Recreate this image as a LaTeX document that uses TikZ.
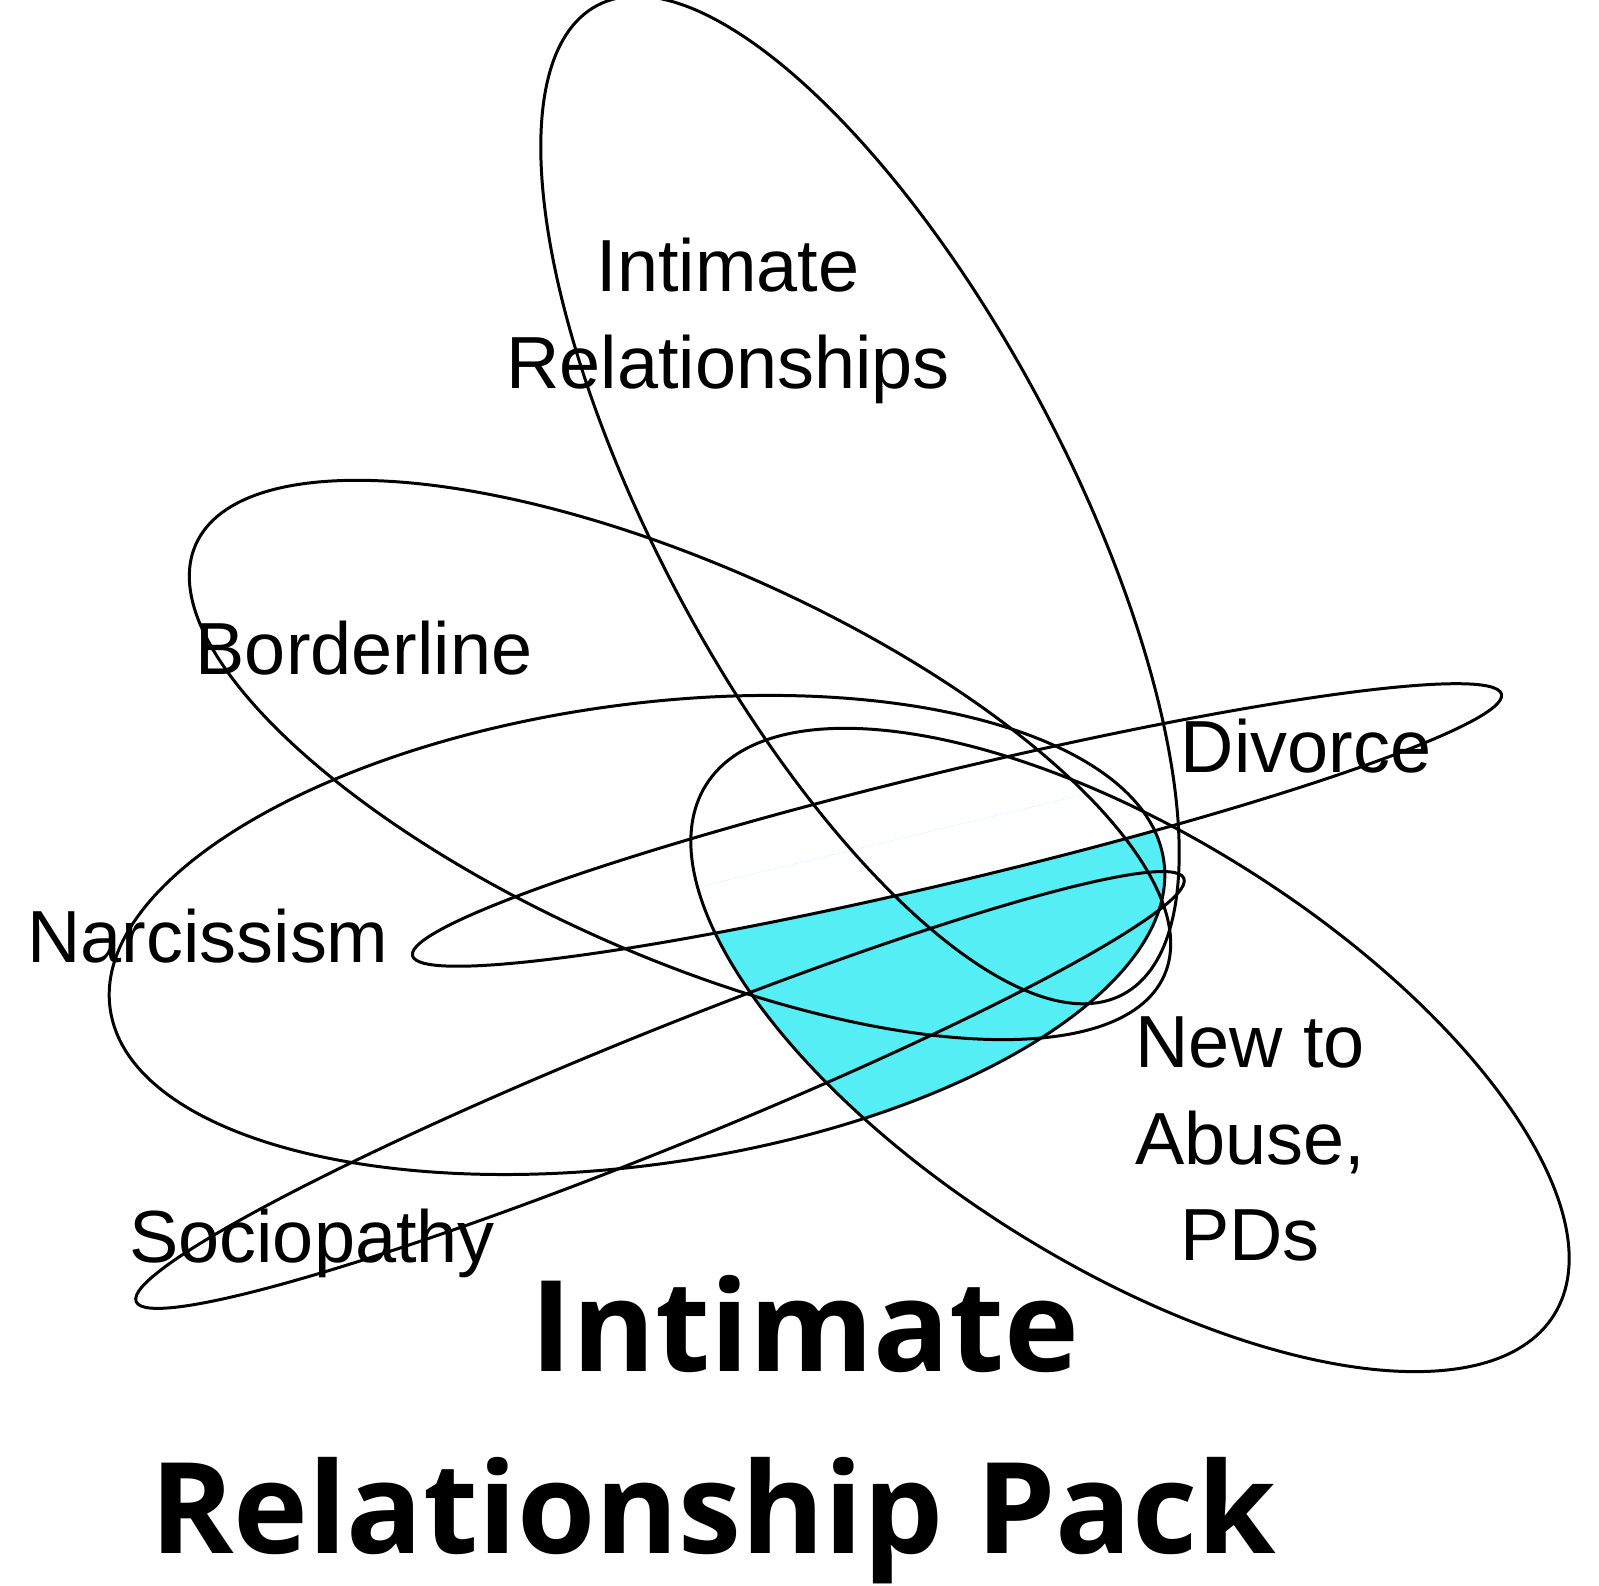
\documentclass[tikz,border=0pt]{standalone}
\usepackage{fontspec}
\setmainfont{Liberation Sans}
\newfontfamily\titlefont{Open Sans}
\usetikzlibrary{positioning}
\definecolor{coreCyan}{HTML}{55EEF5}
% ring: centre x, centre y, angle, half axes
\newcommand{\DrawRing}[5]{\draw[ring, rotate around={#3:(#1,#2)}] (#1,#2) ellipse [x radius=#4, y radius=#5];}
\begin{document}
\begin{tikzpicture}[x=0.01cm, y=0.01cm,
    ring/.style={draw=black, line width=0.85pt},
    label/.style={font=\fontsize{21}{27.5}\selectfont, align=center, inner sep=0pt},
    heading/.style={font=\titlefont\bfseries\fontsize{36}{40}\selectfont, inner sep=0pt}]
    \useasboundingbox (0,0) rectangle (1599,1586);
    % shared core
    \begin{scope}
        \clip[rotate around={-32:(1130,536)}] (1130,536) ellipse [x radius=500, y radius=215];
        \clip[rotate around={8:(637,651)}] (637,651) ellipse [x radius=532, y radius=230];
        \clip[rotate around={13.5:(957,761)}] (357,761) rectangle (1557,161);
        \fill[coreCyan, even odd rule, rotate around={13.5:(957,761)}]
            (357,761) rectangle (1557,161)
            (957,761) ellipse [x radius=560, y radius=55];
    \end{scope}
    % rings
    \DrawRing{860}{1086}{-62}{560}{205}
    \DrawRing{680}{826}{-24}{530}{195}
    \DrawRing{637}{651}{8}{532}{230}
    \DrawRing{957}{761}{13.5}{560}{55}
    \DrawRing{660}{496}{22}{565}{58}
    \DrawRing{1130}{536}{-32}{500}{215}
    % labels
    \node[label] (intimate) at (728,1265) {Intimate\\Relationships};
    \node[label] (borderline) at (364,938) {Borderline};
    \node[label] (divorce) at (1306,840) {Divorce};
    \node[label] (narcissism) at (208,650) {Narcissism};
    \node[label] (newto) at (1250,447) {New to\\Abuse,\\PDs};
    \node[label] (sociopathy) at (312,343) {Sociopathy};
    \node[heading] (title) at (805,262) {Intimate};
    \node[heading] (pack) at (713,65) {Relationship Pack};
\end{tikzpicture}
\end{document}
